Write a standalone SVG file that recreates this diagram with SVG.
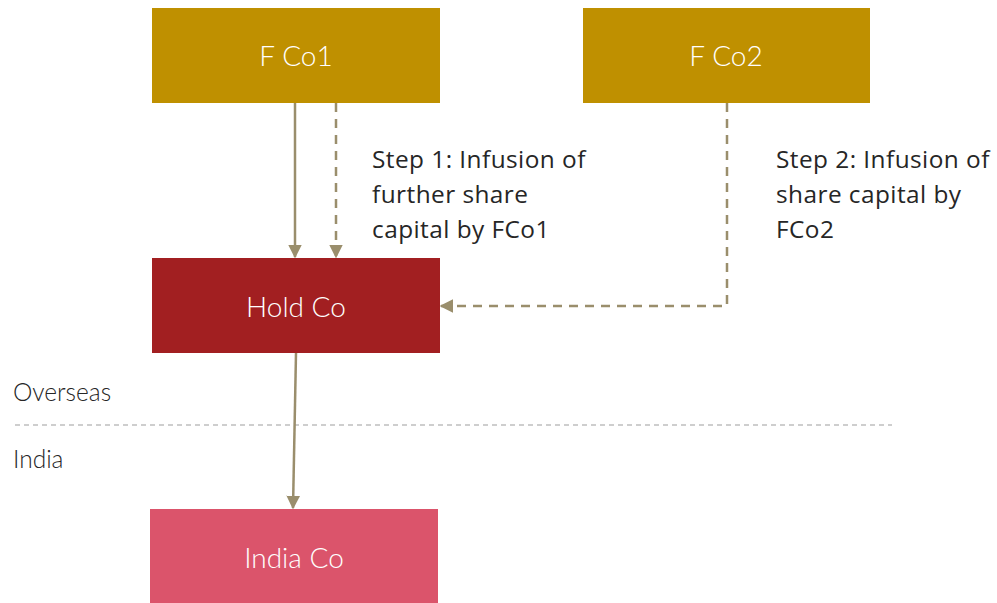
<svg xmlns="http://www.w3.org/2000/svg" width="997" height="603" viewBox="0 0 997 603">
  <style>
    .box-label { font-family: Lato, "Open Sans", sans-serif; font-weight: 300; font-size: 28px; fill: #ffffff; text-anchor: middle; }
    .note { font-family: "Open Sans", Lato, sans-serif; font-weight: 400; font-size: 24.4px; letter-spacing: 0.45px; fill: #262626; }
    .side { font-family: Lato, "Open Sans", sans-serif; font-weight: 300; font-size: 24.5px; fill: #262626; }
    .link { stroke: #9a8e6c; stroke-width: 2.5; fill: none; }
    .dash { stroke-dasharray: 9 7; }
    .divider { stroke: #9e9e9e; stroke-width: 1.2; stroke-dasharray: 5 4; }
  </style>
  <defs>
    <marker id="arrow" viewBox="0 0 10 10" refX="9" refY="5" markerWidth="5.5" markerHeight="5.5" orient="auto" markerUnits="strokeWidth">
      <path d="M0,0 L10,5 L0,10 z" fill="#9a8e6c"/>
    </marker>
  </defs>

  <rect width="997" height="603" fill="#ffffff"/>

  <!-- jurisdiction divider -->
  <line class="divider" x1="15" y1="425" x2="892" y2="425"/>
  <text class="side" x="13" y="401">Overseas</text>
  <text class="side" x="13" y="468">India</text>

  <g id="connectors">
    <line class="link" x1="295" y1="103" x2="295" y2="257" marker-end="url(#arrow)"/>
    <line class="link dash" x1="336" y1="103" x2="336" y2="257" marker-end="url(#arrow)"/>
    <polyline class="link dash" points="727,103 727,306 441,306" marker-end="url(#arrow)"/>
    <line class="link" x1="296" y1="353" x2="293" y2="508" marker-end="url(#arrow)"/>
  </g>

  <g id="fco1">
    <rect x="152" y="8" width="288" height="95" fill="#bf9000"/>
    <text class="box-label" x="296" y="66">F Co1</text>
  </g>
  <g id="fco2">
    <rect x="583" y="8" width="287" height="95" fill="#bf9000"/>
    <text class="box-label" x="726" y="66">F Co2</text>
  </g>
  <g id="holdco">
    <rect x="152" y="258" width="288" height="95" fill="#a21f21"/>
    <text class="box-label" x="296" y="317">Hold Co</text>
  </g>
  <g id="indiaco">
    <rect x="150" y="509" width="288" height="94" fill="#db546b"/>
    <text class="box-label" x="294" y="568">India Co</text>
  </g>

  <g id="step1-note">
    <text class="note" x="372" y="168">Step 1: Infusion of</text>
    <text class="note" x="372" y="203">further share</text>
    <text class="note" x="372" y="238">capital by FCo1</text>
  </g>
  <g id="step2-note">
    <text class="note" x="776" y="168">Step 2: Infusion of</text>
    <text class="note" x="776" y="203">share capital by</text>
    <text class="note" x="776" y="238">FCo2</text>
  </g>
</svg>
